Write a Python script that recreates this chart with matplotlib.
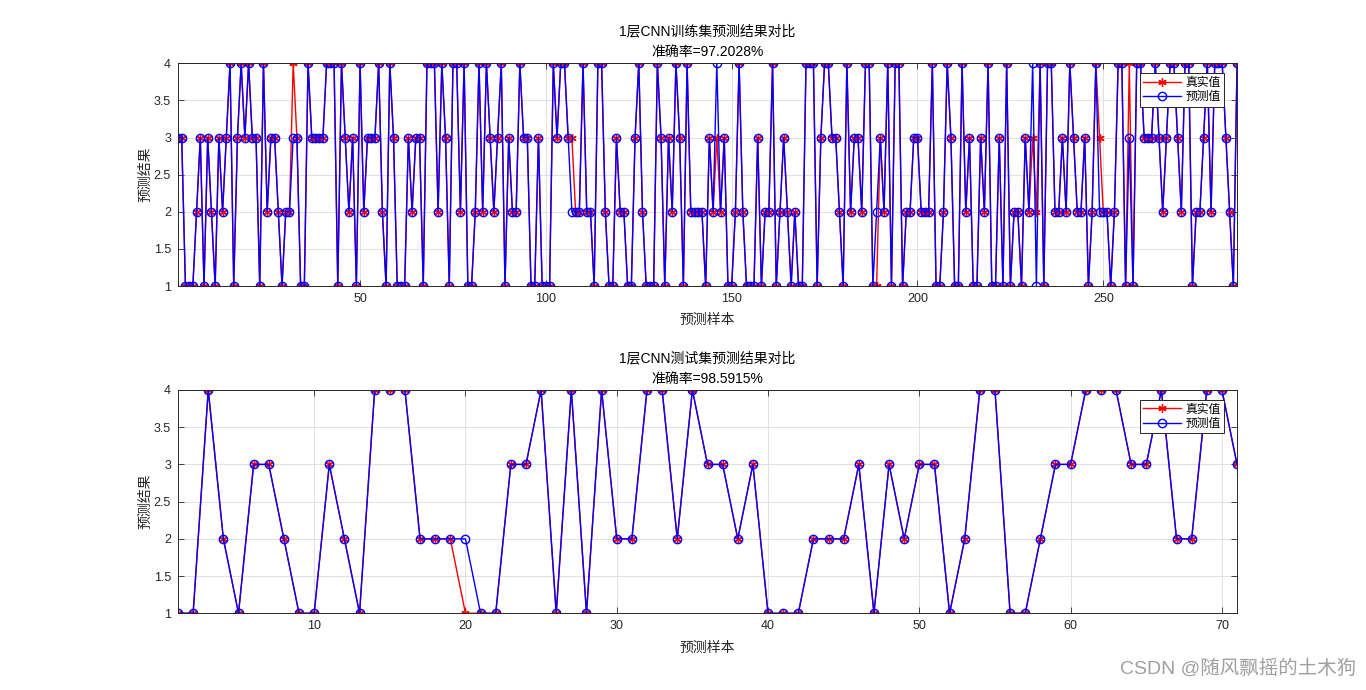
import numpy as np
import matplotlib
matplotlib.use('Agg')
import matplotlib.pyplot as plt

# 字型: 英數用 Liberation Sans, 中文退回 Noto Sans CJK SC
plt.rcParams['font.family'] = ['Liberation Sans', 'Noto Sans CJK SC']
plt.rcParams['axes.unicode_minus'] = False

# 訓練集 (286 筆)
train_true = [3, 3, 1, 1, 1, 2, 3, 1, 3, 2, 1, 3, 2, 3, 4, 1, 3, 4, 3, 4,
              3, 3, 1, 4, 2, 3, 3, 2, 1, 2, 2, 4, 3, 1, 1, 4, 3, 3, 3, 3,
              4, 4, 4, 1, 4, 3, 2, 3, 1, 4, 2, 3, 3, 3, 4, 2, 1, 4, 3, 1,
              1, 1, 3, 2, 3, 3, 1, 4, 4, 4, 2, 4, 3, 1, 4, 4, 2, 4, 1, 1,
              2, 4, 2, 4, 3, 2, 3, 4, 1, 3, 2, 2, 4, 3, 3, 1, 1, 3, 1, 1,
              1, 4, 3, 4, 4, 3, 3, 2, 2, 4, 2, 2, 1, 4, 4, 2, 1, 1, 3, 2,
              2, 1, 1, 3, 4, 2, 1, 1, 1, 4, 3, 1, 3, 2, 4, 3, 1, 4, 2, 2,
              2, 2, 1, 3, 2, 3, 2, 3, 1, 1, 2, 4, 2, 1, 1, 1, 3, 1, 2, 2,
              4, 1, 2, 3, 2, 1, 2, 1, 1, 4, 4, 4, 1, 3, 4, 4, 3, 3, 2, 1,
              4, 2, 3, 3, 2, 4, 4, 1, 1, 3, 2, 4, 1, 4, 4, 1, 2, 2, 3, 3,
              2, 2, 2, 4, 1, 1, 2, 4, 3, 1, 1, 4, 2, 3, 1, 1, 3, 2, 4, 1,
              1, 3, 1, 4, 1, 2, 2, 1, 3, 2, 3, 2, 4, 1, 4, 4, 2, 2, 3, 2,
              4, 3, 2, 2, 3, 1, 2, 4, 3, 2, 2, 1, 2, 4, 4, 1, 4, 1, 4, 4,
              3, 3, 3, 4, 3, 2, 3, 4, 4, 3, 2, 4, 4, 1, 2, 2, 3, 4, 2, 4,
              4, 4, 3, 2, 1, 4]
train_pred = [3, 3, 1, 1, 1, 2, 3, 1, 3, 2, 1, 3, 2, 3, 4, 1, 3, 4, 3, 4,
              3, 3, 1, 4, 2, 3, 3, 2, 1, 2, 2, 3, 3, 1, 1, 4, 3, 3, 3, 3,
              4, 4, 4, 1, 4, 3, 2, 3, 1, 4, 2, 3, 3, 3, 4, 2, 1, 4, 3, 1,
              1, 1, 3, 2, 3, 3, 1, 4, 4, 4, 2, 4, 3, 1, 4, 4, 2, 4, 1, 1,
              2, 4, 2, 4, 3, 2, 3, 4, 1, 3, 2, 2, 4, 3, 3, 1, 1, 3, 1, 1,
              1, 4, 3, 4, 4, 3, 2, 2, 2, 4, 2, 2, 1, 4, 4, 2, 1, 1, 3, 2,
              2, 1, 1, 3, 4, 2, 1, 1, 1, 4, 3, 1, 3, 2, 4, 3, 1, 4, 2, 2,
              2, 2, 1, 3, 2, 4, 2, 3, 1, 1, 2, 4, 2, 1, 1, 1, 3, 1, 2, 2,
              4, 1, 2, 3, 2, 1, 2, 1, 1, 4, 4, 4, 1, 3, 4, 4, 3, 3, 2, 1,
              4, 2, 3, 3, 2, 4, 4, 1, 2, 3, 2, 4, 1, 4, 4, 1, 2, 2, 3, 3,
              2, 2, 2, 4, 1, 1, 2, 4, 3, 1, 1, 4, 2, 3, 1, 1, 3, 2, 4, 1,
              1, 3, 1, 4, 1, 2, 2, 1, 3, 2, 4, 1, 4, 1, 4, 4, 2, 2, 3, 2,
              4, 3, 2, 2, 3, 1, 2, 4, 2, 2, 2, 1, 2, 4, 4, 1, 3, 1, 4, 4,
              3, 3, 3, 4, 3, 2, 3, 4, 4, 3, 2, 4, 4, 1, 2, 2, 3, 4, 2, 4,
              4, 4, 3, 2, 1, 4]

# 測試集 (71 筆)
test_true = [1, 1, 4, 2, 1, 3, 3, 2, 1, 1, 3, 2, 1, 4, 4, 4, 2, 2, 2, 1,
             1, 1, 3, 3, 4, 1, 4, 1, 4, 2, 2, 4, 4, 2, 4, 3, 3, 2, 3, 1,
             1, 1, 2, 2, 2, 3, 1, 3, 2, 3, 3, 1, 2, 4, 4, 1, 1, 2, 3, 3,
             4, 4, 4, 3, 3, 4, 2, 2, 4, 4, 3]
test_pred = [1, 1, 4, 2, 1, 3, 3, 2, 1, 1, 3, 2, 1, 4, 4, 4, 2, 2, 2, 2,
             1, 1, 3, 3, 4, 1, 4, 1, 4, 2, 2, 4, 4, 2, 4, 3, 3, 2, 3, 1,
             1, 1, 2, 2, 2, 3, 1, 3, 2, 3, 3, 1, 2, 4, 4, 1, 1, 2, 3, 3,
             4, 4, 4, 3, 3, 4, 2, 2, 4, 4, 3]

panels = [
    ('1层CNN训练集预测结果对比', train_true, train_pred, [50, 100, 150, 200, 250]),
    ('1层CNN测试集预测结果对比', test_true, test_pred, [10, 20, 30, 40, 50, 60, 70]),
]
y_ticks = [1, 1.5, 2, 2.5, 3, 3.5, 4]
y_tick_labels = ['1', '1.5', '2', '2.5', '3', '3.5', '4']

fig = plt.figure(figsize=(13.66, 6.9), dpi=100)
positions = [[0.1303, 0.5855, 0.7753, 0.3228],
             [0.1303, 0.1112, 0.7753, 0.3236]]

star = (6, 2, 0)  # 類似 MATLAB 的 '*'

for pos, (name, y_true, y_pred, xt) in zip(positions, panels):
    ax = fig.add_axes(pos)
    n = len(y_true)
    x = np.arange(1, n + 1)
    acc = np.mean(np.array(y_true) == np.array(y_pred)) * 100

    ax.plot(x, y_true, color='red', linestyle='-', linewidth=1,
            marker=star, markersize=6, markeredgewidth=1, label='真实值')
    ax.plot(x, y_pred, color='blue', linestyle='-', linewidth=1,
            marker='o', markersize=6, markerfacecolor='none',
            markeredgewidth=1, label='预测值')

    ax.set_xlim(1, n)
    ax.set_ylim(1, 4)
    ax.set_xticks(xt)
    ax.set_yticks(y_ticks)
    ax.set_yticklabels(y_tick_labels)
    ax.grid(True, color='#dcdcdc', linewidth=0.6)
    ax.set_axisbelow(True)
    ax.tick_params(direction='in', top=True, right=True, length=4,
                   width=0.6, labelsize=9, colors='#262626', pad=5)
    for s in ax.spines.values():
        s.set_color('#262626')
        s.set_linewidth(0.7)

    ax.set_title(f'{name}\n准确率={acc:.4f}%', fontsize=10, pad=5,
                 linespacing=1.6)
    ax.set_xlabel('预测样本', fontsize=10, color='#262626', labelpad=6)
    ax.set_ylabel('预测结果', fontsize=10, color='#262626', labelpad=1)

    leg = ax.legend(loc='upper right', fontsize=8.5, fancybox=False,
                    framealpha=1, edgecolor='#262626', handlelength=3.2,
                    bbox_to_anchor=(0.988, 0.955), borderaxespad=0,
                    borderpad=0.3, labelspacing=0.2, handletextpad=0.4)
    leg.get_frame().set_linewidth(0.7)

# 浮水印
fig.text(0.993, 0.032, 'CSDN @随风飘摇的土木狗', ha='right', va='center',
         fontsize=14, color='#a0a0a0')

plt.savefig('out.png', dpi=100)
print('saved out.png')
